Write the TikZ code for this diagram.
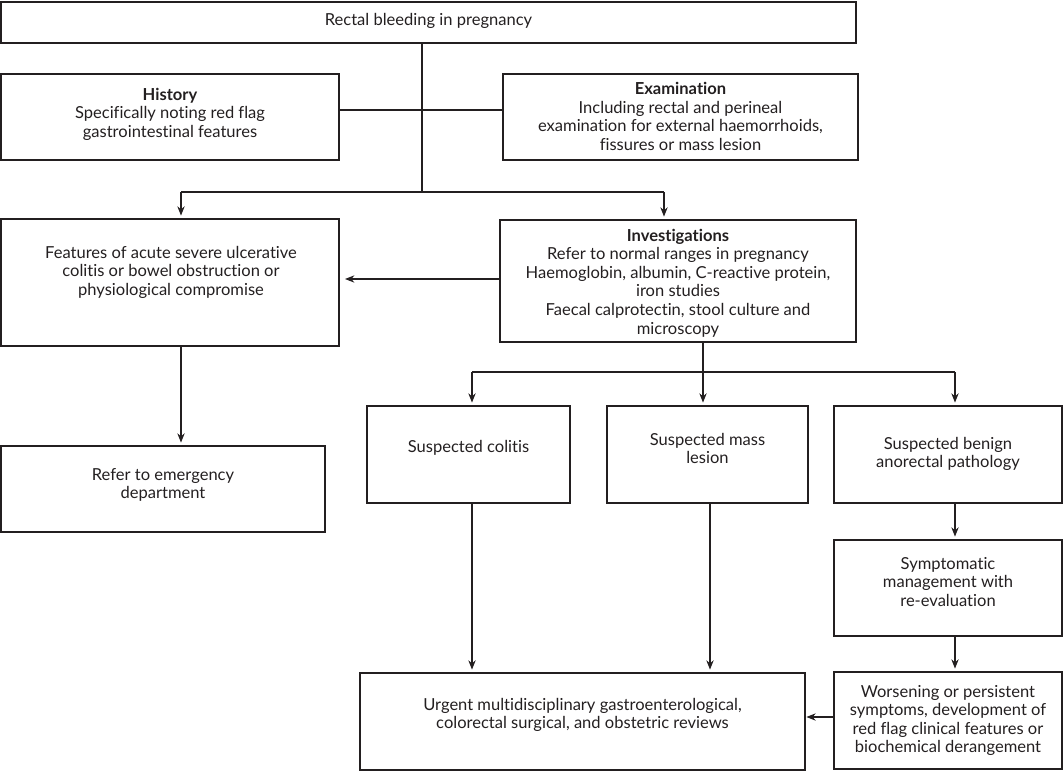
\documentclass[tikz,border=0pt]{standalone}
\usepackage{fontspec}
\setmainfont{Lato}[RawFeature={-liga}]
\usetikzlibrary{arrows.meta}
\definecolor{ln}{HTML}{231F20}
\begin{document}
\begin{tikzpicture}[x=0.75pt,y=-0.75pt,
  box/.style={draw=ln, line width=1.1pt, inner sep=0pt},
  sz/.style 2 args={minimum width=#1*0.75pt, minimum height=#2*0.75pt},
  txt/.style={align=center, font=\fontsize{12.4}{13.9}\selectfont, inner sep=0pt, text=ln},
  conn/.style={draw=ln, line width=0.8pt},
  arr/.style={conn, -{Stealth[length=7pt,width=5.5pt]}, shorten >=2pt}]
\useasboundingbox (0,0) rectangle (1064,771);
% boxes
\node[box, sz={855}{41}] (top) at (428.5,22.5) {};
\node[txt] (topt) at (428.5,21) {Rectal bleeding in pregnancy};
\node[box, sz={338}{86}] (hist) at (170,117) {};
\node[txt] (histt) at (170,114) {\textbf{History}\\Specifically noting red flag\\gastrointestinal features};
\node[box, sz={355}{86}] (exam) at (680.5,117) {};
\node[txt] (examt) at (680.5,116.5) {\textbf{Examination}\\Including rectal and perineal\\examination for external haemorrhoids,\\fissures or mass lesion};
\node[box, sz={338}{127}] (feat) at (170,282.5) {};
\node[txt] (featt) at (171,272) {Features of acute severe ulcerative\\colitis or bowel obstruction or\\physiological compromise};
\node[box, sz={356}{122}] (inv) at (678,281) {};
\node[txt] (invt) at (678,283) {\textbf{Investigations}\\Refer to normal ranges in pregnancy\\Haemoglobin, albumin, C-reactive protein,\\iron studies\\Faecal calprotectin, stool culture and\\microscopy};
\node[box, sz={324}{86}] (refer) at (163,489) {};
\node[txt] (refert) at (163,485) {Refer to emergency\\department};
\node[box, sz={203}{97}] (col) at (468.5,454.5) {};
\node[txt] (colt) at (468.5,448) {Suspected colitis};
\node[box, sz={201}{97}] (mass) at (707.5,454.5) {};
\node[txt] (masst) at (707.5,448.5) {Suspected mass\\lesion};
\node[box, sz={228}{97}] (ben) at (948,454.5) {};
\node[txt] (bent) at (948,454) {Suspected benign\\anorectal pathology};
\node[box, sz={228}{96}] (sym) at (948,588) {};
\node[txt] (symt) at (948,582) {Symptomatic\\management with\\re-evaluation};
\node[box, sz={228}{97}] (wor) at (948,720.5) {};
\node[txt] (wort) at (948,720.5) {Worsening or persistent\\symptoms, development of\\red flag clinical features or\\biochemical derangement};
\node[box, sz={445}{97}] (urg) at (582.5,721.5) {};
\node[txt] (urgt) at (582.5,715) {Urgent multidisciplinary gastroenterological,\\colorectal surgical, and obstetric reviews};
% junction coordinates
\coordinate (j1) at (422,192);
\coordinate (jl) at (181,192);
\coordinate (jr) at (664,192);
\coordinate (hy) at (0,110);
\coordinate (iy) at (0,279);
\coordinate (j2) at (703,372);
\coordinate (kl) at (472,372);
\coordinate (kr) at (955,372);
\coordinate (mx) at (710,0);
\coordinate (wy) at (0,717);
% connectors
\draw[conn] (j1 |- top.south) -- (j1);
\draw[conn] (hist.east |- hy) -- (exam.west |- hy);
\draw[conn] (jl) -- (jr);
\draw[arr] (jl) -- (jl |- feat.north);
\draw[arr] (jr) -- (jr |- inv.north);
\draw[arr, shorten >=4pt] (inv.west |- iy) -- (feat.east |- iy);
\draw[arr] (jl |- feat.south) -- (jl |- refer.north);
\draw[conn] (j2 |- inv.south) -- (j2);
\draw[conn] (kl) -- (kr);
\draw[arr] (kl) -- (kl |- col.north);
\draw[arr] (j2) -- (j2 |- mass.north);
\draw[arr] (kr) -- (kr |- ben.north);
\draw[arr] (kl |- col.south) -- (kl |- urg.north);
\draw[arr] (mx |- mass.south) -- (mx |- urg.north);
\draw[arr] (kr |- ben.south) -- (kr |- sym.north);
\draw[arr] (kr |- sym.south) -- (kr |- wor.north);
\draw[arr, shorten >=0.5pt] (wor.west |- wy) -- (urg.east |- wy);
\end{tikzpicture}
\end{document}
